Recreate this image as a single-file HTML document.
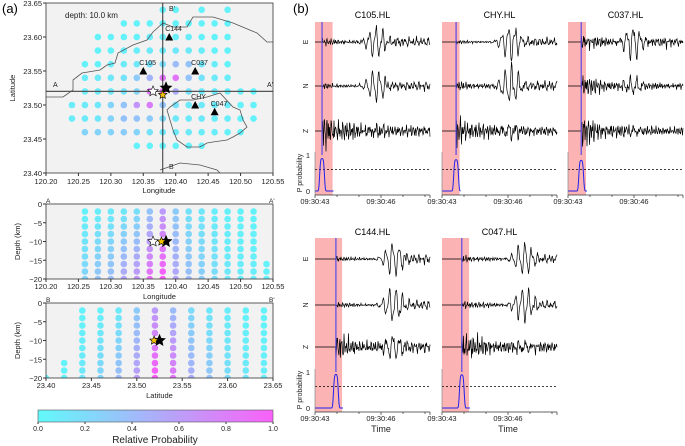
<!DOCTYPE html>
<html><head><meta charset="utf-8">
<style>
html,body{margin:0;padding:0;background:#fff;}
svg{display:block;font-family:"Liberation Sans","DejaVu Sans",sans-serif;}
</style></head>
<body>
<svg id="fig" width="685" height="446" viewBox="0 0 685 446" xmlns="http://www.w3.org/2000/svg">
<defs>
<linearGradient id="cbg" x1="0" x2="1" y1="0" y2="0">
<stop offset="0" stop-color="rgb(97,250,250)"/>
<stop offset="0.4" stop-color="rgb(158,189,250)"/>
<stop offset="1" stop-color="rgb(250,97,250)"/>
</linearGradient>
</defs>
<g id="root"></g>
</svg>
<script>
// ---------- DATA ----------
const mapRowLats = [23.64,23.62,23.60,23.58,23.56,23.54,23.52,23.50,23.48,23.46,23.44];
const mapRowStart = [120.38,120.32,120.28,120.28,120.26,120.26,120.26,120.24,120.24,120.26,120.34];
const mapRowVals = [
 [0.05,0.05,null,0.05,null,0.05],
 [0.05,0.05,0.05,0.05,0.05,0.05,0.05,0.05,0.05],
 [0.05,0.05,0.05,0.05,0.08,0.08,0.08,0.08,0.05,0.05,0.05],
 [0.05,0.05,0.08,0.08,0.1,0.1,0.12,0.1,0.08,0.05,0.05],
 [0.05,0.05,0.08,0.1,0.12,0.15,0.18,0.4,0.35,0.12,0.08,0.05],
 [0.08,0.1,0.12,0.15,0.3,0.45,0.85,0.85,0.35,0.15,0.1,0.08],
 [0.08,0.1,0.12,0.15,0.25,0.85,0.95,0.5,0.15,0.1,0.1,0.08,0.05,0.05],
 [0.08,0.1,0.12,0.25,0.35,0.65,0.8,0.35,0.15,0.1,0.1,0.08,0.08,0.05,0.05],
 [0.08,0.1,0.12,0.25,0.35,0.35,0.3,0.2,0.12,0.1,0.1,0.08,0.08,0.05,0.05],
 [0.25,0.25,0.25,0.3,0.25,0.15,0.12,0.1,0.1,0.08,0.08,0.05,0.05],
 [0.05,0.05,0.05,0.05,0.05,0.05]
];
const aaLons = [120.26,120.28,120.30,120.32,120.34,120.36,120.38,120.40,120.42,120.44,120.46,120.48,120.50,120.52];
const aaTop = [0.05,0.08,0.1,0.12,0.18,0.35,0.6,0.3,0.15,0.12,0.08,0.06,0.05,0.05];
const aaBot = [0.25,0.35,0.4,0.55,0.65,0.9,1.0,0.55,0.4,0.3,0.2,0.12,0.1,0.08];
const bbLats = [23.44,23.46,23.48,23.50,23.52,23.54,23.56,23.58,23.60,23.62,23.64];
const bbTop = [0.05,0.06,0.1,0.3,0.6,0.4,0.2,0.12,0.08,0.05,0.05];
const bbBot = [0.12,0.25,0.4,0.6,1.0,0.85,0.5,0.35,0.2,0.12,0.08];
const depths = [-2,-4,-6,-8,-10,-12,-14,-16,-18,-20];
const lonTicks = [120.20,120.25,120.30,120.35,120.40,120.45,120.50,120.55];
const latTicks = [23.40,23.45,23.50,23.55,23.60,23.65];
const depthTicks = [0,-5,-10,-15,-20];
const cbTicks = [0.0,0.2,0.4,0.6,0.8,1.0];
const staNames = ["C144","C105","C037","CHY","C047"];
const staLon = [120.39,120.35,120.43,120.43,120.46];
const staLat = [23.60,23.55,23.55,23.50,23.49];
const wfNames = ["C105.HL","CHY.HL","C037.HL","C144.HL","C047.HL"];
const wfP = [0.32,0.64,0.6,0.95,0.9];
const wfS = [2.8,3.1,2.95,3.6,3.7];
const wfRedEnd = [0.8,0.8,0.82,1.23,1.23];
const wfPeak = [0.9,0.87,0.85,0.93,0.92];
const ampE_P = [4,2,9,3,4], ampE_S = [18,18,17,19,17];
const ampN_P = [3,5,12,3,5], ampN_S = [18,20,8,20,18];
const ampZ_P = [20,16,16,14,17], ampZ_S = [4,7,4,14,5];
const timeTicks = ["09:30:43","09:30:46"];

// ---------- HELPERS ----------
const NS="http://www.w3.org/2000/svg";
const root=document.getElementById('root');
function el(tag,attrs,parent){const e=document.createElementNS(NS,tag);for(const k in attrs)e.setAttribute(k,attrs[k]);(parent||root).appendChild(e);return e;}
function txt(s,x,y,size,anchor,parent,extra){const t=el('text',Object.assign({x:x,y:y,'font-size':size,'text-anchor':anchor||'start',fill:'#222'},extra||{}),parent);t.textContent=s;return t;}
function col(v){const a=0.62,bg=242;const r=v*255,g=255*(1-v),b=255;return `rgb(${Math.round(a*r+(1-a)*bg)},${Math.round(a*g+(1-a)*bg)},${Math.round(a*b+(1-a)*bg)})`;}

// ---------- MAP ----------
const MX0=46,MX1=273,MY0=3,MY1=173;
const mx=l=>MX0+(l-120.20)/0.35*(MX1-MX0);
const my=l=>MY0+(23.65-l)/0.25*(MY1-MY0);
const map=el('g',{});


el('rect',{x:MX0,y:MY0,width:MX1-MX0,height:MY1-MY0,fill:'#f2f2f2'},map);
txt('(a)',2,13,13,'start',root,{fill:'#000'});
mapRowLats.forEach((lat,i)=>{mapRowVals[i].forEach((v,j)=>{if(v===null)return;
 const c=el('circle',{cx:mx(mapRowStart[i]+0.02*j),cy:my(lat),r:3.3,fill:col(v)},map);
 
 });});
const coast1="M273,42 L267,42 L257,33 L233,23 L213,17 L193,17 L187,27 L173,27 L163,23 L153,32 L147,40 L133,45 L118,53 L115,63 L107,65 L100,70 L82,73 L73,80 L73,90 L63,97 L46,97";
const coast2="M170,107 L180,100 L193,100 L207,97 L220,93 L233,107 L240,110 L243,120 L247,127 L240,133 L233,137 L227,140 L213,142 L207,143 L200,147 L187,147 L177,140 L173,130 L170,120 L167,110 Z";
const coast3="M160,170 L180,163 L200,165 L217,170 L220,173";
[coast1,coast2,coast3].forEach(d=>{const p=el('path',{d:d,fill:'none',stroke:'#555','stroke-width':0.8},map);
 
 });
el('line',{x1:MX0,x2:MX1,y1:my(23.52),y2:my(23.52),stroke:'#555','stroke-width':1.2},map);
el('line',{x1:mx(120.38),x2:mx(120.38),y1:MY0,y2:MY1,stroke:'#333','stroke-width':1},map);
txt('A',53,87,7,'start',map);txt("A'",267,87,7,'start',map);
txt("B'",169,11,7,'start',map);txt('B',169,169,7,'start',map);
txt('depth: 10.0 km',65,18,8,'start',map);
staNames.forEach((n,i)=>{const x=mx(staLon[i]),y=my(staLat[i]);
 const t=el('path',{d:`M${x-4},${y+3.5} L${x+4},${y+3.5} L${x},${y-4} Z`,fill:'#000'},map);
 
 
 txt(n,x-4,y-6,7,'start',map);});
function star(x,y,r,fill,parent,name){let d='';for(let k=0;k<10;k++){const a=-Math.PI/2+k*Math.PI/5,rr=k%2?r*0.45:r;d+=(k?'L':'M')+(x+rr*Math.cos(a)).toFixed(1)+','+(y+rr*Math.sin(a)).toFixed(1);}
 const s=el('path',{d:d+'Z',fill:fill,stroke:'#000','stroke-width':0.6},parent);
 
 }
star(mx(120.365),my(23.52),5.5,'#fff',map,'catalog-star');
star(mx(120.385),my(23.525),6,'#000',map,'reference-star');
star(mx(120.38),my(23.515),4.5,'#f5c400',map,'predicted-star');
el('rect',{x:MX0,y:MY0,width:MX1-MX0,height:MY1-MY0,fill:'none',stroke:'#333','stroke-width':0.8},map);
lonTicks.forEach(v=>{const x=mx(v);el('line',{x1:x,x2:x,y1:MY1,y2:MY1+3,stroke:'#333'},map);txt(v.toFixed(2),x,MY1+11,7.5,'middle',map);});
latTicks.forEach(v=>{const y=my(v);el('line',{x1:MX0-3,x2:MX0,y1:y,y2:y,stroke:'#333'},map);txt(v.toFixed(2),MX0-4,y+3,7.5,'end',map);});
txt('Longitude',159,193,7.5,'middle',map);
txt('Latitude',15,88,7.5,'middle',map,{transform:'rotate(-90 15 88)'});

// ---------- CROSS SECTIONS ----------
function section(name,X0,X1,Y0,Y1,vmin,vmax,cols,top,bot,ticks,xlab,l1,l2,extra){
 const g=el('g',{});
 
 
 const xs=v=>X0+(v-vmin)/(vmax-vmin)*(X1-X0);
 const ys=d=>Y0+(-d)/20*(Y1-Y0);
 el('rect',{x:X0,y:Y0,width:X1-X0,height:Y1-Y0,fill:'#f2f2f2'},g);
 const cl=el('clipPath',{id:'clip'+name},g);el('rect',{x:X0,y:Y0,width:X1-X0,height:Y1-Y0},cl);
 const dots=el('g',{'clip-path':`url(#clip${name})`},g);
 cols.forEach((c,i)=>{depths.forEach((d,k)=>{const f=k/(depths.length-1);
  const cc=el('circle',{cx:xs(c),cy:ys(d),r:3.3,fill:col(top[i]+(bot[i]-top[i])*f)},dots);
  
  });});
 extra(dots,xs,ys);
 el('rect',{x:X0,y:Y0,width:X1-X0,height:Y1-Y0,fill:'none',stroke:'#333','stroke-width':0.8},g);
 ticks.forEach(v=>{const x=xs(v);el('line',{x1:x,x2:x,y1:Y1,y2:Y1+3,stroke:'#333'},g);txt(v.toFixed(2),x,Y1+10,7.5,'middle',g);});
 depthTicks.forEach(v=>{const y=ys(v);el('line',{x1:X0-3,x2:X0,y1:y,y2:y,stroke:'#333'},g);txt(String(v).replace('-','−'),X0-4,y+3,7.5,'end',g);});
 txt(xlab,(X0+X1)/2,Y1+20,7.5,'middle',g);
 txt('Depth (km)',20,(Y0+Y1)/2,7.5,'middle',g,{transform:`rotate(-90 20 ${(Y0+Y1)/2})`});
 txt(l1,X0,Y0-1,6.5,'start',g);txt(l2,X1-4,Y0-1,6.5,'start',g);
 return g;}
section('section-aa',46,273,204,279,120.20,120.55,aaLons,aaTop,aaBot,lonTicks,'Longitude','A',"A'",(g,xs,ys)=>{
 [-16,-18,-20].forEach(d=>{const c=el('circle',{cx:xs(120.54),cy:ys(d),r:3.3,fill:col(0.05)},g);
  
  });
 star(xs(120.365),ys(-10),5.5,'#fff',g,'catalog-star');
 star(xs(120.385),ys(-10),6,'#000',g,'reference-star');
 star(xs(120.378),ys(-10),4.5,'#f5c400',g,'predicted-star');});
section('section-bb',46,273,303,378,23.40,23.65,bbLats,bbTop,bbBot,[23.40,23.45,23.50,23.55,23.60,23.65],'Latitude','B',"B'",(g,xs,ys)=>{
 [-16,-18,-20].forEach(d=>{const c=el('circle',{cx:xs(23.42),cy:ys(d),r:3.3,fill:col(0.05)},g);
  
  });
 const c0=el('circle',{cx:xs(23.40),cy:ys(-20),r:3.3,fill:col(0.05)},g);
 
 
 star(xs(23.525),ys(-10),6,'#000',g,'reference-star');
 star(xs(23.519),ys(-10),4.5,'#f5c400',g,'predicted-star');});

// ---------- COLORBAR ----------
const cb=el('g',{});


el('rect',{x:38,y:410,width:235,height:12,fill:'url(#cbg)',stroke:'#555','stroke-width':0.6},cb);
cbTicks.forEach(v=>{const x=38+v*235;el('line',{x1:x,x2:x,y1:422,y2:424,stroke:'#333'},cb);txt(v.toFixed(1),x,431,7,'middle',cb);});
txt('Relative Probability',155,443,10,'middle',cb);

// ---------- SEISMOGRAMS ----------
txt('(b)',293,13,13,'start',root,{fill:'#000'});
const panelX=[315,442,568,315,442];
const PW=115, PXS=22;
function osc(t,k){return Math.sin(t*61+k)*0.5+Math.sin(t*97+2*k)*0.35+Math.sin(t*37+3*k)*0.3+Math.sin(t*149+k*5)*0.3+Math.sin(t*211+k*7)*0.2;}
function trace(t,p,s,ap,as,k){if(t<p)return 0;const dp=t-p;let v=ap*(0.25+0.75*Math.exp(-dp/0.9))*osc(t,k);
 const ds=t-s;v+=as*Math.exp(-ds*ds/0.22)*(Math.sin(t*21+k)*0.8+0.3*Math.sin(t*43+k));
 if(t>s)v+=as*0.22*osc(t*0.6,k+2);return v;}
wfNames.forEach((n,i)=>{
 const top=i<3;const X=panelX[i];
 const yE=top?42:259,yN=top?86:305,yZ=top?131:347,yP1=top?155:372,yP0=top?191:408,yAx=top?195:412,y0=top?22:238;
 const g=el('g',{});
 
 
 const tx=t=>X+t*PXS;
 el('rect',{x:X,y:y0,width:tx(wfRedEnd[i])-X,height:yAx-y0,fill:'#fbb3b3'},g);
 txt(n,X+PW/2,top?18:235,9,'middle',g,{fill:'#000'});
 const comps=[['E',yE,ampE_P[i],ampE_S[i]],['N',yN,ampN_P[i],ampN_S[i]],['Z',yZ,ampZ_P[i],ampZ_S[i]]];
 comps.forEach((c,k)=>{let d='';for(let px=0;px<=PW;px+=0.5){const t=px/PXS;const v=trace(t,wfP[i],wfS[i],c[2],c[3],k*3+i);d+=(px?'L':'M')+(X+px).toFixed(1)+','+(c[1]-v).toFixed(1);}
  const p=el('path',{d:d,fill:'none',stroke:'#000','stroke-width':0.7},g);
  
  
  if(i===0||i===3)txt(c[0],X-10,c[1]+3,7,'middle',g,{transform:`rotate(-90 ${X-10} ${c[1]})`});});
 el('line',{x1:tx(wfP[i]),x2:tx(wfP[i]),y1:y0,y2:yP1,stroke:'#5a4ae8','stroke-width':1.2},g);
 const yp=v=>yP0-(yP0-yP1)*v;
 el('line',{x1:X,x2:X+PW,y1:yp(0.6),y2:yp(0.6),stroke:'#000','stroke-width':0.7,'stroke-dasharray':'2,2'},g);
 let d='';for(let px=0;px<=tx(wfRedEnd[i])-X+1;px+=0.5){const t=px/PXS;const z=(t-wfP[i])/0.1;d+=(px?'L':'M')+(X+px).toFixed(1)+','+yp(wfPeak[i]*Math.exp(-z*z*z*z/2)).toFixed(1);}
 const pc=el('path',{d:d,fill:'none',stroke:'#2222ee','stroke-width':1},g);
 
 
 el('line',{x1:X,x2:X,y1:yP1-3,y2:yAx,stroke:'#888','stroke-width':0.7},g);
 el('line',{x1:X,x2:X+PW,y1:yAx,y2:yAx,stroke:'#333','stroke-width':0.7},g);
 for(let s=0;s<=5;s++){const x=tx(s);el('line',{x1:x,x2:x,y1:yAx,y2:yAx+(s%3?2:3),stroke:'#333','stroke-width':0.7},g);}
 el('line',{x1:X+PW,x2:X+PW,y1:yAx,y2:yAx+3,stroke:'#333','stroke-width':0.7},g);
 txt(timeTicks[0],X,yAx+9,7.5,'middle',g);
 txt(timeTicks[1],tx(3),yAx+9,7.5,'middle',g);
 if(i===0||i===3){txt('1',X-5,yP1+3,7.5,'end',g);txt('0',X-5,yP0+3,7.5,'end',g);
  txt('P probability',X-13,(yP1+yP0)/2,7,'middle',g,{transform:`rotate(-90 ${X-13} ${(yP1+yP0)/2})`});}
 if(!top)txt('Time',tx(3),yAx+20,9,'middle',g);
});
</script>
</body></html>
